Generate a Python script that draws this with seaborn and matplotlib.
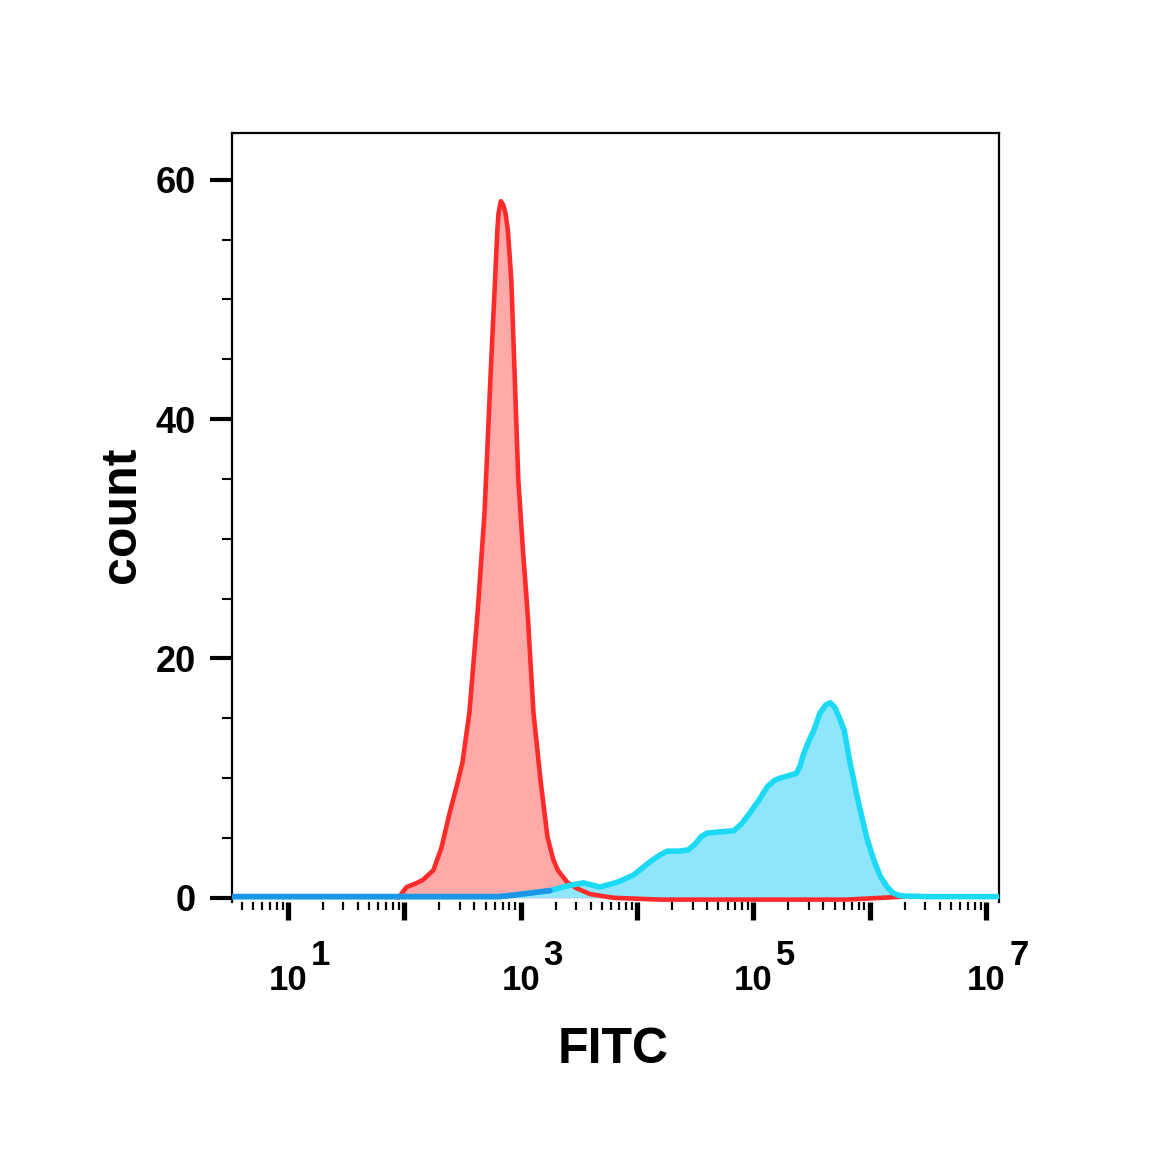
import numpy as np, pandas as pd
import matplotlib
matplotlib.use("Agg")
import matplotlib.pyplot as plt
import seaborn as sns
from matplotlib.ticker import FixedLocator, LogLocator, MultipleLocator, NullFormatter
from matplotlib.transforms import blended_transform_factory

# values (x as log10 of FITC, y = count)
red_log = [1.95, 2.02, 2.10, 2.16, 2.25, 2.32, 2.39, 2.45, 2.50, 2.56, 2.63, 2.69, 2.74,
           2.78, 2.80, 2.81, 2.83, 2.85, 2.87, 2.89, 2.92, 2.95, 2.98, 3.02, 3.06, 3.11,
           3.17, 3.23, 3.28, 3.32, 3.40, 3.48, 3.60, 3.80, 4.2, 5.0, 5.8, 6.3]
red_cnt = [0.0, 0.9, 1.2, 1.5, 2.3, 4.2, 7.1, 9.3, 11.3, 15.5, 23.8, 32.2, 43.3,
           51.6, 55.8, 57.2, 58.2, 57.9, 57.2, 55.8, 51.6, 43.3, 34.9, 29.0, 23.8, 15.5,
           9.9, 5.1, 3.2, 2.3, 1.3, 0.8, 0.3, 0.0, -0.15, -0.15, -0.15, 0.1]

cyan_log = [0.52, 1.5, 2.5, 2.82, 3.00, 3.25, 3.40, 3.54, 3.68, 3.83, 3.97, 4.11, 4.20,
            4.26, 4.36, 4.44, 4.50, 4.55, 4.60, 4.70, 4.83, 4.90, 4.97, 5.05, 5.12, 5.18,
            5.23, 5.30, 5.37, 5.40, 5.43, 5.48, 5.52, 5.57, 5.62, 5.66, 5.70, 5.74, 5.78,
            5.83, 5.89, 5.94, 5.98, 6.04, 6.09, 6.15, 6.20, 6.25, 6.30, 6.5, 7.11]
cyan_cnt = [0.1, 0.1, 0.1, 0.1, 0.3, 0.6, 1.0, 1.25, 0.9, 1.3, 1.9, 3.0, 3.6,
            3.9, 3.9, 4.0, 4.5, 5.1, 5.4, 5.5, 5.6, 6.2, 7.1, 8.2, 9.3, 9.8,
            10.0, 10.2, 10.4, 11.0, 12.0, 13.2, 14.0, 15.4, 16.1, 16.3, 15.9, 15.0, 14.0,
            11.3, 8.5, 6.4, 4.8, 3.0, 1.8, 0.9, 0.4, 0.2, 0.15, 0.1, 0.1]

decades = [1, 2, 3, 4, 5, 6, 7]
labeled = [1, 3, 5, 7]
y_major = [0, 20, 40, 60]

red = pd.DataFrame({"FITC": 10 ** np.array(red_log), "count": red_cnt})
cyan = pd.DataFrame({"FITC": 10 ** np.array(cyan_log), "count": cyan_cnt})

sns.set_theme(style="ticks")
plt.rcParams["font.family"] = ["Liberation Sans", "DejaVu Sans"]
plt.rcParams["font.weight"] = "bold"

fig = plt.figure(figsize=(11.52, 11.52), dpi=100)
ax = fig.add_axes([232/1152, 250/1152, 767/1152, 769/1152])

line_kw = dict(sort=False, estimator=None, ax=ax, solid_joinstyle="round",
               solid_capstyle="round")
ax.fill_between(red["FITC"], red["count"], 0, color="#FFA9A9", lw=0, zorder=2)
ax.fill_between(cyan["FITC"], cyan["count"], 0, color="#8FE6FA", lw=0, zorder=3)
sns.lineplot(data=red, x="FITC", y="count", color="#FF2B2B", lw=3.3, zorder=4, **line_kw)
sns.lineplot(data=cyan, x="FITC", y="count", color="#1CDAF4", lw=4, zorder=5, **line_kw)
low = cyan[cyan["FITC"] < 10 ** 3.3]
sns.lineplot(data=low, x="FITC", y="count", color="#1E96E6", lw=4, zorder=6, **line_kw)

ax.set_xscale("log")
ax.set_xlim(10 ** 0.52, 10 ** 7.11)
ax.set_ylim(-0.35, 63.9)

ax.xaxis.set_major_locator(FixedLocator([10 ** k for k in decades]))
ax.set_xticklabels(["10" if k in labeled else "" for k in decades])
ax.xaxis.set_minor_locator(LogLocator(base=10, subs=range(2, 10), numticks=60))
ax.xaxis.set_minor_formatter(NullFormatter())
ax.yaxis.set_major_locator(FixedLocator(y_major))
ax.yaxis.set_minor_locator(MultipleLocator(5))

ax.tick_params(axis="x", which="major", length=13, width=3.8, pad=32, labelsize=25,
               color="black", labelcolor="black", direction="out")
ax.tick_params(axis="x", which="minor", length=6, width=1.6, color="black", direction="out")
ax.tick_params(axis="y", which="major", length=16, width=3, pad=10, labelsize=26,
               color="black", labelcolor="black", direction="out")
ax.tick_params(axis="y", which="minor", length=7, width=1.5, color="black", direction="out")
for lab in ax.get_xticklabels() + ax.get_yticklabels():
    lab.set_fontweight("bold")

for s in ["left", "top", "right"]:
    ax.spines[s].set_color("black")
    ax.spines[s].set_linewidth(1.6)
ax.spines["bottom"].set_visible(False)

# exponents of the 10^k tick labels
trans = blended_transform_factory(ax.transData, ax.transAxes)
for k in labeled:
    ax.text(10 ** (k + 0.28), -0.069, str(k), transform=trans, ha="center", va="center",
            fontsize=25, fontweight="bold", color="black", clip_on=False)

ax.set_xlabel("FITC", fontsize=36, fontweight="bold", color="black", va="center")
ax.set_ylabel("count", fontsize=36, fontweight="bold", color="black", va="center")
ax.xaxis.set_label_coords(0.497, -0.192)
ax.yaxis.set_label_coords(-0.143, 0.503)

fig.savefig("out.png", dpi=100)
